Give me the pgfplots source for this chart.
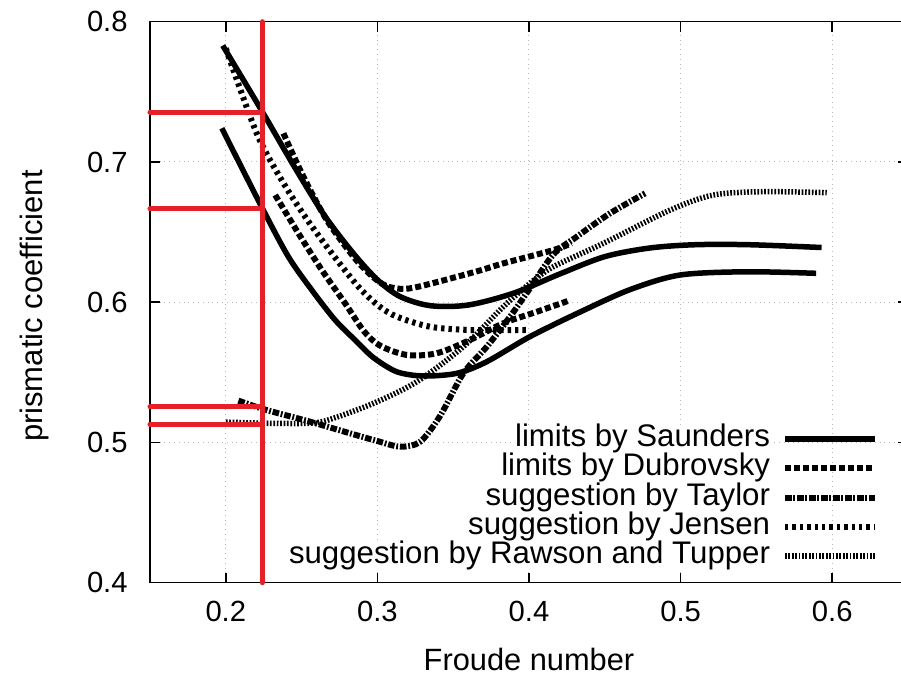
\documentclass[border=0pt]{standalone}
\usepackage{fontspec}
\setmainfont{Liberation Sans}
\usepackage{pgfplots}
\pgfplotsset{compat=1.18}
\definecolor{redline}{RGB}{228,32,40}
\begin{document}
\fontsize{15.4}{18}\selectfont
\begin{tikzpicture}
\useasboundingbox (-75pt,-47.15pt) rectangle (375.5pt,291.35pt);
\begin{axis}[
  at={(0,0)}, anchor=south west,
  scale only axis, width=379pt, height=280.5pt,
  xmin=0.15, xmax=0.65, ymin=0.4, ymax=0.8,
  xtick={0.2,0.3,0.4,0.5,0.6}, xticklabels={0.2,0.3,0.4,0.5,0.6},
  ytick={0.4,0.5,0.6,0.7,0.8}, yticklabels={0.4,0.5,0.6,0.7,0.8},
  /pgf/number format/assume math mode=true,
  ticklabel style={font=\fontsize{14.6}{17}\selectfont},
  xticklabel style={inner sep=0pt, anchor=center, yshift=-14.4pt},
  yticklabel style={inner sep=0pt, anchor=east, xshift=-11pt},
  tick align=inside, major tick length=5pt,
  tick style={line width=0.75pt, black},
  axis line style={line width=0.75pt},
  grid=major, grid style={gray!55, dotted, line width=0.5pt},
  xlabel={Froude number}, ylabel={prismatic coefficient},
  xlabel style={at={(axis description cs:0.5,0)}, anchor=center, yshift=-38.5pt, font=\fontsize{15.4}{18}\selectfont},
  ylabel style={at={(axis description cs:-0.152,0.493)}, anchor=center, font=\fontsize{15.5}{18}\selectfont},
  clip=false,
  legend plot pos=right,
  legend cell align=right,
  legend image code/.code={\draw[#1] (0pt,0pt) -- (45pt,0pt);},
  legend style={at={(axis description cs:0.961,0.021)}, anchor=south east,
    draw=none, fill=none, inner sep=0pt, row sep=0pt, column sep=6pt,
    nodes={inner sep=0pt, fill=white, text height=11.1pt, text depth=3.5pt,
      font=\fontsize{15.6}{18}\selectfont}},
]
% Saunders
\addplot[black, line width=2.75pt, smooth] coordinates {
(0.198,0.783) (0.224,0.736) (0.245,0.697) (0.265,0.662) (0.284,0.635)
(0.300,0.616) (0.315,0.604) (0.335,0.5975) (0.360,0.598) (0.390,0.6065)
(0.420,0.620) (0.450,0.6325) (0.480,0.6387) (0.510,0.641) (0.545,0.641) (0.593,0.639)};
\addlegendentry{limits by Saunders}
\addplot[black, line width=2.75pt, smooth, forget plot] coordinates {
(0.1974,0.724) (0.2241,0.667) (0.2413,0.6324) (0.2567,0.6087) (0.2721,0.5873)
(0.2853,0.573) (0.2974,0.5605) (0.3128,0.5504) (0.3303,0.5474) (0.3524,0.5493)
(0.372,0.5575) (0.4007,0.5755) (0.4337,0.593) (0.4667,0.609) (0.4997,0.6194)
(0.5437,0.6217) (0.5894,0.6206)};
% Dubrovsky
\addplot[black, line width=3pt, dash pattern=on 3pt off 1.5pt, smooth] coordinates {
(0.238,0.7204) (0.2512,0.6895) (0.2666,0.6586) (0.2842,0.6325) (0.296,0.619)
(0.306,0.6115) (0.318,0.6095) (0.3326,0.6125) (0.3656,0.622) (0.3831,0.6277)
(0.4161,0.6372) (0.428,0.642)};
\addlegendentry{limits by Dubrovsky}
\addplot[black, line width=3pt, dash pattern=on 3pt off 1.5pt, smooth, forget plot] coordinates {
(0.2326,0.6764) (0.2479,0.6491) (0.2633,0.623) (0.2787,0.5992) (0.291,0.5795)
(0.3018,0.569) (0.3194,0.5624) (0.3392,0.5636) (0.3611,0.5731) (0.3831,0.585)
(0.4052,0.5932) (0.426,0.601)};
% Taylor
\addplot[black, line width=3pt, dash pattern=on 3.3pt off 0.9pt on 0.9pt off 0.9pt, smooth] coordinates {
(0.2083,0.5298) (0.227,0.5231) (0.2556,0.5148) (0.282,0.5065) (0.300,0.501)
(0.315,0.497) (0.3282,0.5005) (0.3414,0.519) (0.3567,0.5493) (0.3722,0.5683)
(0.3875,0.5897) (0.4007,0.610) (0.416,0.634) (0.4315,0.6467) (0.4535,0.6634) (0.4766,0.6776)};
\addlegendentry{suggestion by Taylor}
% Jensen
\addplot[black, line width=3pt, dash pattern=on 1.7pt off 2pt, smooth] coordinates {
(0.200,0.781) (0.2204,0.7204) (0.2369,0.687) (0.2523,0.661) (0.2699,0.6349)
(0.2875,0.611) (0.3007,0.5975) (0.3128,0.5897) (0.3348,0.5825) (0.3611,0.5802) (0.3986,0.5802)};
\addlegendentry{suggestion by Jensen}
% Rawson and Tupper
\addplot[black, line width=2.75pt, dash pattern=on 0.85pt off 0.85pt, smooth] coordinates {
(0.200,0.5145) (0.227,0.5137) (0.2556,0.5137) (0.2689,0.5165) (0.2974,0.5279)
(0.326,0.5433) (0.3567,0.5683) (0.3831,0.5968) (0.4007,0.6135) (0.4161,0.6253)
(0.4491,0.642) (0.4931,0.6657) (0.5216,0.6764) (0.5546,0.6788) (0.5964,0.6781)};
\addlegendentry{suggestion by Rawson and Tupper}
% red marker lines
\addplot[redline, line width=2.5pt, line cap=round, forget plot] coordinates {(0.224,0.4) (0.224,0.8)};
\addplot[redline, line width=2.5pt, line cap=round, forget plot] coordinates {(0.15,0.7356) (0.224,0.7356)};
\addplot[redline, line width=2.5pt, line cap=round, forget plot] coordinates {(0.15,0.6665) (0.224,0.6665)};
\addplot[redline, line width=2.5pt, line cap=round, forget plot] coordinates {(0.15,0.5253) (0.224,0.5253)};
\addplot[redline, line width=2.5pt, line cap=round, forget plot] coordinates {(0.15,0.5129) (0.224,0.5129)};
\end{axis}
\end{tikzpicture}
\end{document}
